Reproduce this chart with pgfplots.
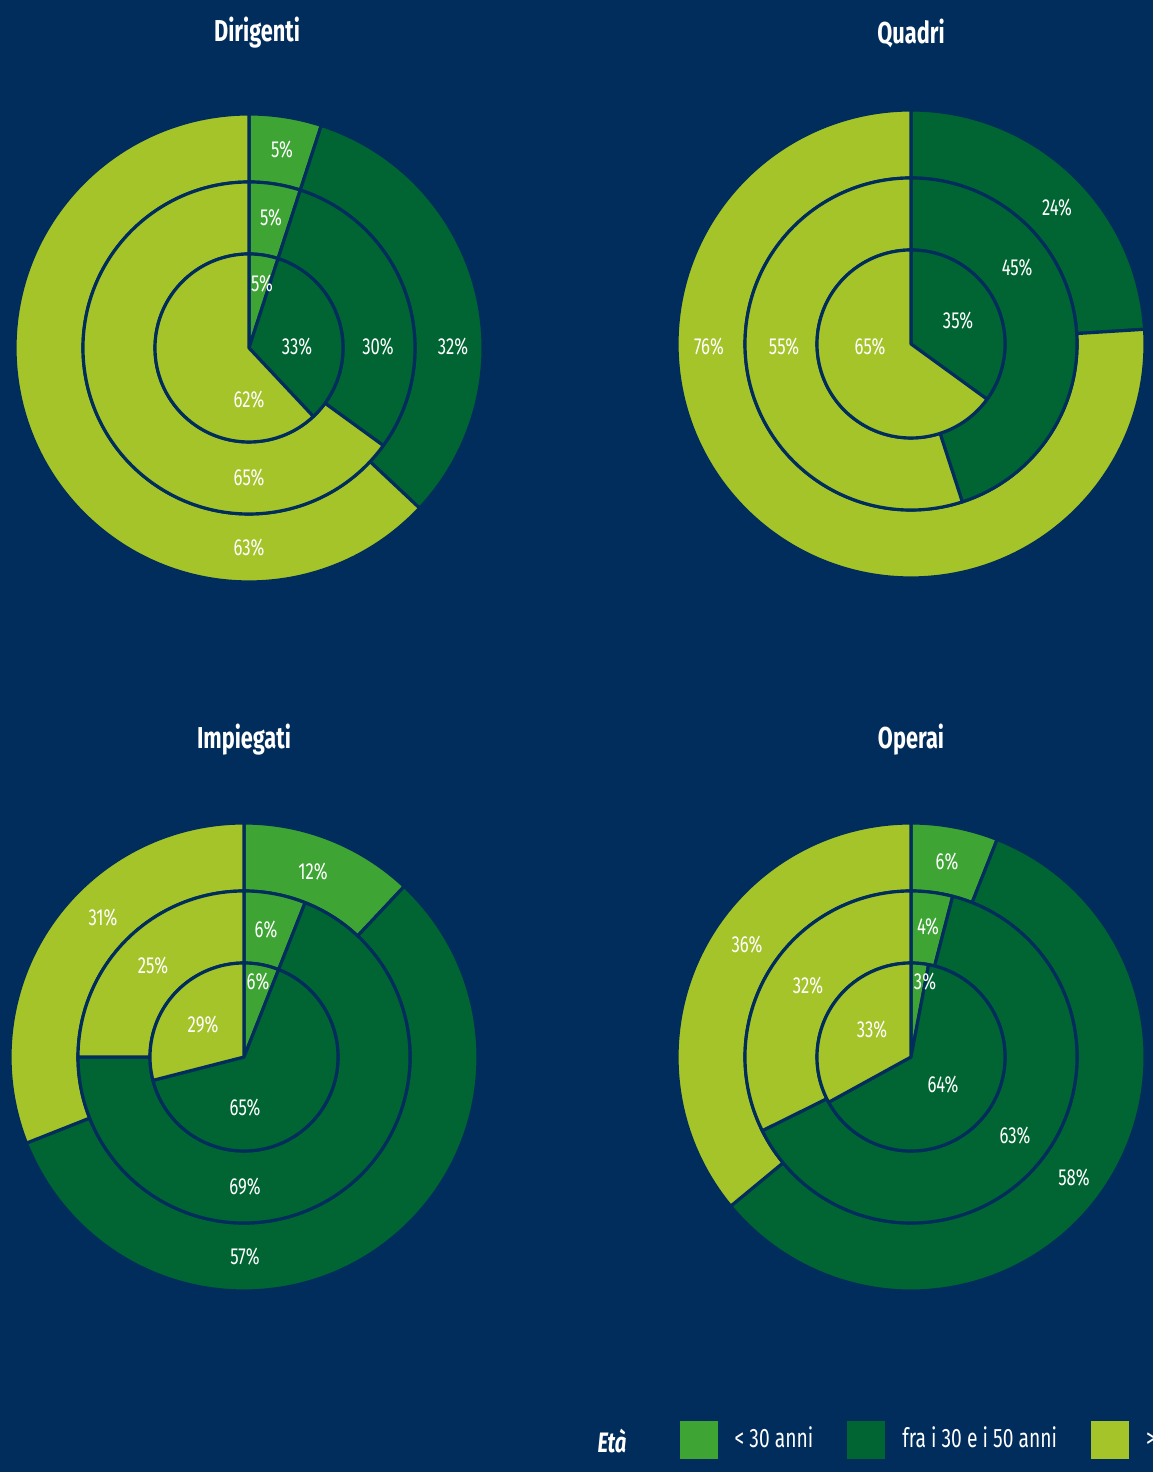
\documentclass[border=0pt]{standalone}
\usepackage{fontspec}
\setmainfont{Fira Sans}[FakeStretch=0.72]
\usepackage{pgfplots}
\usepackage{pgfplotstable}
\pgfplotsset{compat=1.18}

\definecolor{navy}{HTML}{002D5B}
\definecolor{cyoung}{HTML}{3EA535}
\definecolor{cmid}{HTML}{006533}
\definecolor{cold}{HTML}{A5C429}

\tikzset{
  lbl/.style={text=white, font=\fontsize{6.6}{8}\selectfont, inner sep=0pt},
  ttl/.style={text=white, font=\fontsize{8.6}{10}\selectfont\bfseries, inner sep=0pt},
}

% row 0 = inner pie, 1 = middle ring, 2 = outer ring
\pgfplotstableread{
ring young mid old
0 5 33 62
1 5 30 65
2 5 32 63
}\dirigenti
\pgfplotstableread{
ring young mid old
0 0 35 65
1 0 45 55
2 0 24 76
}\quadri
\pgfplotstableread{
ring young mid old
0 6 65 29
1 6 69 25
2 12 57 31
}\impiegati
\pgfplotstableread{
ring young mid old
0 3 64 33
1 4 63 32
2 6 58 36
}\operai

% sector: cx cy rin rout p0 p1 colour (percent, clockwise from 12 o'clock)
\newcommand{\sector}[7]{%
  \pgfmathsetmacro\angA{90-3.6*#5}%
  \pgfmathsetmacro\angB{90-3.6*#6}%
  \ifdim #3pt=0pt
    \edef\tmp{\noexpand\filldraw[fill=#7,draw=navy,line width=0.9pt,line join=round]
      (axis cs:#1,#2) -- ([shift={(\angA:#4cm)}]axis cs:#1,#2)
      arc[start angle=\angA,end angle=\angB,radius=#4cm] -- cycle;}%
  \else
    \edef\tmp{\noexpand\filldraw[fill=#7,draw=navy,line width=0.9pt,line join=round]
      ([shift={(\angA:#4cm)}]axis cs:#1,#2)
      arc[start angle=\angA,end angle=\angB,radius=#4cm]
      -- ([shift={(\angB:#3cm)}]axis cs:#1,#2)
      arc[start angle=\angB,end angle=\angA,radius=#3cm] -- cycle;}%
  \fi
  \tmp}

\newcommand{\ring}[6]{%
  \pgfplotstablegetelem{#2}{young}\of#1\let\vy\pgfplotsretval
  \pgfplotstablegetelem{#2}{mid}\of#1\let\vm\pgfplotsretval
  \pgfplotstablegetelem{#2}{old}\of#1\let\vo\pgfplotsretval
  \pgfmathsetmacro\tot{\vy+\vm+\vo}%
  \pgfmathsetmacro\pa{100*\vy/\tot}%
  \pgfmathsetmacro\pb{100*(\vy+\vm)/\tot}%
  \sector{#3}{#4}{#5}{#6}{0}{\pa}{cyoung}%
  \sector{#3}{#4}{#5}{#6}{\pa}{\pb}{cmid}%
  \sector{#3}{#4}{#5}{#6}{\pb}{100}{cold}}

\newcommand{\donut}[3]{%
  \ring{#1}{2}{#2}{#3}{1.66}{2.34}%
  \ring{#1}{1}{#2}{#3}{0.94}{1.66}%
  \ring{#1}{0}{#2}{#3}{0}{0.94}}

\begin{document}
\begin{tikzpicture}
\path[use as bounding box] (0,0) rectangle (11.53,14.72);
\clip (0,0) rectangle (11.53,14.72);
\fill[navy] (0,0) rectangle (11.53,14.72);
\begin{axis}[
    at={(0,0)}, anchor=south west,
    x=0.1mm, y=0.1mm,
    xmin=0, xmax=1153, ymin=0, ymax=1472,
    enlargelimits=false,
    hide axis, clip=false,
    legend image code/.code={\fill[#1,draw=none] (0cm,-0.19cm) rectangle (0.38cm,0.19cm);},
    legend columns=-1,
    legend style={at={(0.5889,0.0217)}, anchor=west, draw=none, fill=none,
        text=white, inner sep=0pt, font=\fontsize{7.6}{10}\selectfont,
        /tikz/every odd column/.append style={column sep=0.1cm},
        /tikz/every even column/.append style={column sep=0.27cm}},
  ]
  \addlegendimage{fill=cyoung}\addlegendentry{< 30 anni}
  \addlegendimage{fill=cmid}\addlegendentry{fra i 30 e i 50 anni}
  \addlegendimage{fill=cold}\addlegendentry{> 50 anni}

  \donut{\dirigenti}{249}{1124}
  \donut{\quadri}{911}{1128}
  \donut{\impiegati}{244}{415}
  \donut{\operai}{911}{415}

  \node[ttl] at (axis cs:257,1439) {Dirigenti};
  \node[ttl] at (axis cs:911,1439) {Quadri};
  \node[ttl] at (axis cs:244,732) {Impiegati};
  \node[ttl] at (axis cs:911,732) {Operai};
  \node[ttl, font=\fontsize{8}{10}\selectfont\bfseries\itshape] at (axis cs:612,31) {Età};

  % Dirigenti
  \node[lbl] at (axis cs:282,1322) {5\%};
  \node[lbl] at (axis cs:271,1254) {5\%};
  \node[lbl] at (axis cs:262,1188) {5\%};
  \node[lbl] at (axis cs:297,1125) {33\%};
  \node[lbl] at (axis cs:378,1125) {30\%};
  \node[lbl] at (axis cs:453,1125) {32\%};
  \node[lbl] at (axis cs:249,1072) {62\%};
  \node[lbl] at (axis cs:249,994) {65\%};
  \node[lbl] at (axis cs:249,924) {63\%};
  % Quadri
  \node[lbl] at (axis cs:1057,1264) {24\%};
  \node[lbl] at (axis cs:1017,1204) {45\%};
  \node[lbl] at (axis cs:958,1151) {35\%};
  \node[lbl] at (axis cs:870,1125) {65\%};
  \node[lbl] at (axis cs:784,1125) {55\%};
  \node[lbl] at (axis cs:709,1125) {76\%};
  % Impiegati
  \node[lbl] at (axis cs:313,600) {12\%};
  \node[lbl] at (axis cs:266,542) {6\%};
  \node[lbl] at (axis cs:258,490) {6\%};
  \node[lbl] at (axis cs:103,554) {31\%};
  \node[lbl] at (axis cs:153,506) {25\%};
  \node[lbl] at (axis cs:203,447) {29\%};
  \node[lbl] at (axis cs:245,364) {65\%};
  \node[lbl] at (axis cs:245,285) {69\%};
  \node[lbl] at (axis cs:245,215) {57\%};
  % Operai
  \node[lbl] at (axis cs:947,610) {6\%};
  \node[lbl] at (axis cs:928,545) {4\%};
  \node[lbl] at (axis cs:925,490) {3\%};
  \node[lbl] at (axis cs:747,527) {36\%};
  \node[lbl] at (axis cs:808,486) {32\%};
  \node[lbl] at (axis cs:872,442) {33\%};
  \node[lbl] at (axis cs:943,387) {64\%};
  \node[lbl] at (axis cs:1015,336) {63\%};
  \node[lbl] at (axis cs:1074,294) {58\%};
\end{axis}
\end{tikzpicture}
\end{document}
